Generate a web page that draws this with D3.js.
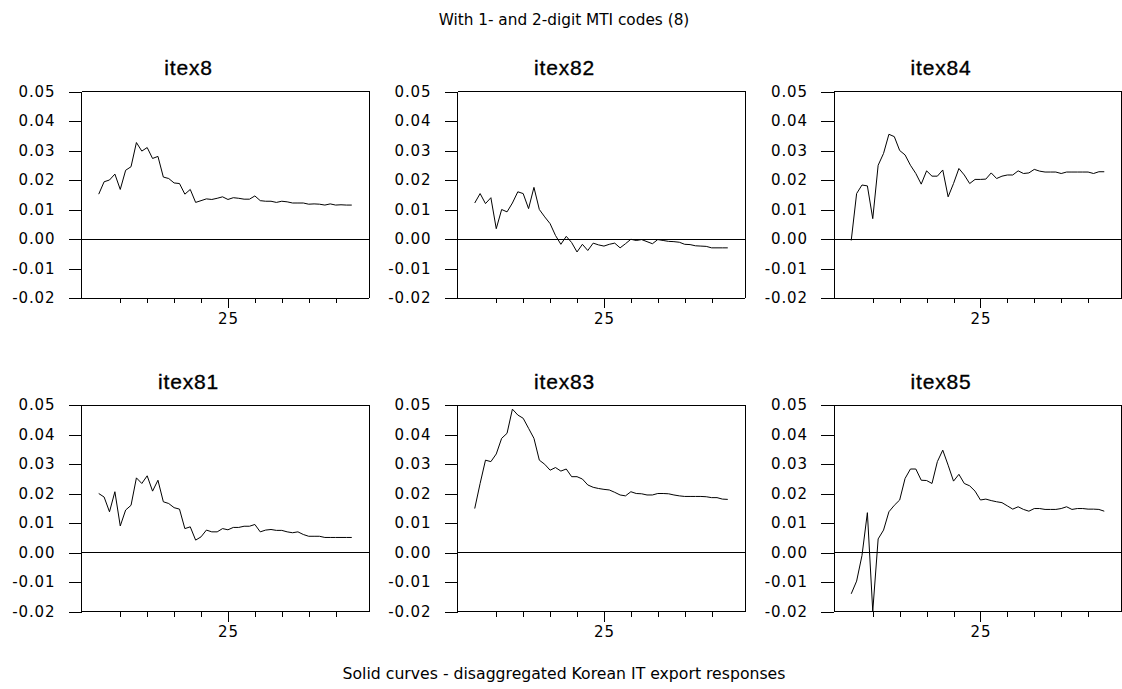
<!DOCTYPE html>
<html lang="en">
<head>
    <meta charset="UTF-8">
    <title>Korean IT export responses</title>
    <script src="https://d3js.org/d3.v7.min.js"></script>
    <style>
        body { margin: 0; background: #fff; }
        svg { display: block; }
        .axis path, .axis line { stroke: #000; shape-rendering: crispEdges; }
        .axis text { font-family: "DejaVu Sans", sans-serif; font-size: 15px; letter-spacing: 0.9px; fill: #000; }
        .frame, .zero { stroke: #000; shape-rendering: crispEdges; }
        .curve { fill: none; stroke: #000; stroke-width: 1; }
        .ptitle { font-family: "Liberation Sans", Arial, sans-serif; font-size: 21px; letter-spacing: 0.8px; stroke: #000; stroke-width: 0.35px; }
        .note { font-family: "DejaVu Sans", sans-serif; font-size: 15.3px; }
    </style>
</head>
<body>
<svg id="chart" width="1122" height="689"></svg>
<script>
    // values, horizon 1..48
    const periods = d3.range(1, 49);
    const panelNames = ["itex8", "itex82", "itex84", "itex81", "itex83", "itex85"];
    const yTicks = [-0.02, -0.01, 0.00, 0.01, 0.02, 0.03, 0.04, 0.05];
    const xTicks = [5, 10, 15, 20, 25, 30, 35, 40, 45];
    const xLabelTick = 25;

    const itex8 = [0.0152,0.0194,0.0200,0.0220,0.0168,0.0233,0.0245,0.0327,0.0298,0.0310,0.0273,0.0280,0.0210,0.0205,0.0190,0.0188,0.0152,0.0168,0.0124,0.0130,0.0136,0.0134,0.0138,0.0143,0.0134,0.0140,0.0138,0.0135,0.0135,0.0146,0.0130,0.0128,0.0128,0.0124,0.0128,0.0126,0.0122,0.0122,0.0122,0.0118,0.0119,0.0118,0.0115,0.0119,0.0115,0.0116,0.0115,0.0115];
    const itex82 = [0.0122,0.0154,0.0120,0.0140,0.0035,0.0100,0.0092,0.0122,0.0160,0.0154,0.0103,0.0175,0.0100,0.0075,0.0052,0.0012,-0.0018,0.0009,-0.0012,-0.0044,-0.0018,-0.0039,-0.0014,-0.0020,-0.0024,-0.0018,-0.0014,-0.0030,-0.0016,-0.0001,-0.0005,-0.0002,-0.0009,-0.0016,-0.0002,-0.0005,-0.0008,-0.0009,-0.0011,-0.0018,-0.0019,-0.0023,-0.0024,-0.0025,-0.0030,-0.0030,-0.0030,-0.0030];
    const itex84 = [-0.0005,0.0154,0.0183,0.0180,0.0069,0.0250,0.0290,0.0355,0.0347,0.0300,0.0285,0.0250,0.0222,0.0186,0.0231,0.0213,0.0213,0.0234,0.0143,0.0188,0.0239,0.0217,0.0188,0.0202,0.0202,0.0203,0.0224,0.0205,0.0213,0.0217,0.0217,0.0231,0.0222,0.0224,0.0236,0.0230,0.0227,0.0227,0.0227,0.0222,0.0227,0.0227,0.0227,0.0227,0.0227,0.0222,0.0228,0.0228];
    const itex81 = [0.0200,0.0188,0.0138,0.0206,0.0090,0.0144,0.0160,0.0253,0.0234,0.0260,0.0208,0.0245,0.0172,0.0166,0.0152,0.0147,0.0081,0.0087,0.0042,0.0053,0.0076,0.0070,0.0070,0.0081,0.0077,0.0085,0.0085,0.0089,0.0089,0.0095,0.0070,0.0076,0.0078,0.0075,0.0075,0.0070,0.0067,0.0070,0.0061,0.0055,0.0055,0.0055,0.0051,0.0051,0.0051,0.0051,0.0051,0.0051];
    const itex83 = [0.0149,0.0234,0.0313,0.0308,0.0334,0.0387,0.0404,0.0486,0.0466,0.0455,0.0421,0.0387,0.0313,0.0299,0.0279,0.0288,0.0276,0.0283,0.0257,0.0257,0.0249,0.0229,0.0221,0.0217,0.0214,0.0212,0.0204,0.0195,0.0192,0.0206,0.0200,0.0199,0.0195,0.0195,0.0200,0.0200,0.0199,0.0195,0.0192,0.0190,0.0190,0.0190,0.0190,0.0189,0.0186,0.0186,0.0181,0.0180];
    const itex85 = [-0.0140,-0.0097,-0.0010,0.0135,-0.0199,0.0046,0.0076,0.0138,0.0160,0.0178,0.0251,0.0283,0.0283,0.0245,0.0244,0.0234,0.0308,0.0347,0.0296,0.0242,0.0265,0.0234,0.0226,0.0208,0.0178,0.0181,0.0176,0.0172,0.0169,0.0158,0.0147,0.0155,0.0146,0.0140,0.0149,0.0149,0.0146,0.0146,0.0146,0.0149,0.0155,0.0146,0.0149,0.0149,0.0147,0.0147,0.0146,0.0140];

    const seriesList = [itex8, itex82, itex84, itex81, itex83, itex85];

    const svg = d3.select("#chart");

    // grid of panels
    const colLeft = [81.5, 457.5, 834];
    const rowTop = [91.5, 405];
    const plotW = 287.5;
    const plotH = 206.5;

    const fmt = d3.formatLocale({decimal: ".", thousands: ",", grouping: [3], currency: ["", ""], minus: "-"}).format(".2f");

    const x = d3.scaleLinear().domain([-2.2, 51.2]).range([0, plotW]);
    const y = d3.scaleLinear().domain([-0.02, 0.05]).range([plotH, 0]);

    const line = d3.line()
        .x((d, i) => x(periods[i]))
        .y(d => y(d));

    svg.append("text")
        .attr("class", "note")
        .attr("x", 564).attr("y", 25)
        .attr("text-anchor", "middle")
        .text("With 1- and 2-digit MTI codes (8)");

    svg.append("text")
        .attr("class", "note")
        .attr("x", 564).attr("y", 679)
        .attr("text-anchor", "middle")
        .style("font-size", "15.7px")
        .text("Solid curves - disaggregated Korean IT export responses");

    seriesList.forEach(function(values, k) {
        const col = k % 3, row = Math.floor(k / 3);
        const g = svg.append("g")
            .attr("transform", `translate(${colLeft[col]},${rowTop[row]})`);

        g.append("text")
            .attr("class", "ptitle")
            .attr("x", 107).attr("y", -16.5)
            .attr("text-anchor", "middle")
            .text(panelNames[k]);

        // y axis
        g.append("g").attr("class", "axis")
            .call(d3.axisLeft(y).tickValues(yTicks).tickSize(13).tickPadding(13).tickFormat(fmt))
            .call(a => a.select(".domain").attr("d", `M0,0V${plotH}`));

        // x axis, only 25 is labelled
        const xa = g.append("g").attr("class", "axis")
            .attr("transform", `translate(0,${plotH})`)
            .call(d3.axisBottom(x).tickValues(xTicks).tickSize(5).tickPadding(10)
                .tickFormat(d => d === xLabelTick ? String(d) : ""));
        xa.select(".domain").attr("d", `M0,0H${plotW}`);
        xa.selectAll(".tick").filter(d => d === xLabelTick).select("line").attr("y2", 10);
        xa.selectAll(".tick text").attr("y", 15);

        // top and right border
        g.append("path").attr("class", "frame").attr("fill", "none")
            .attr("d", `M0,0H${plotW}V${plotH}`);

        // zero line
        g.append("line").attr("class", "zero")
            .attr("x1", 0).attr("x2", plotW)
            .attr("y1", y(0)).attr("y2", y(0));

        g.append("path")
            .datum(values)
            .attr("class", "curve")
            .attr("d", line);
    });
</script>
</body>
</html>
